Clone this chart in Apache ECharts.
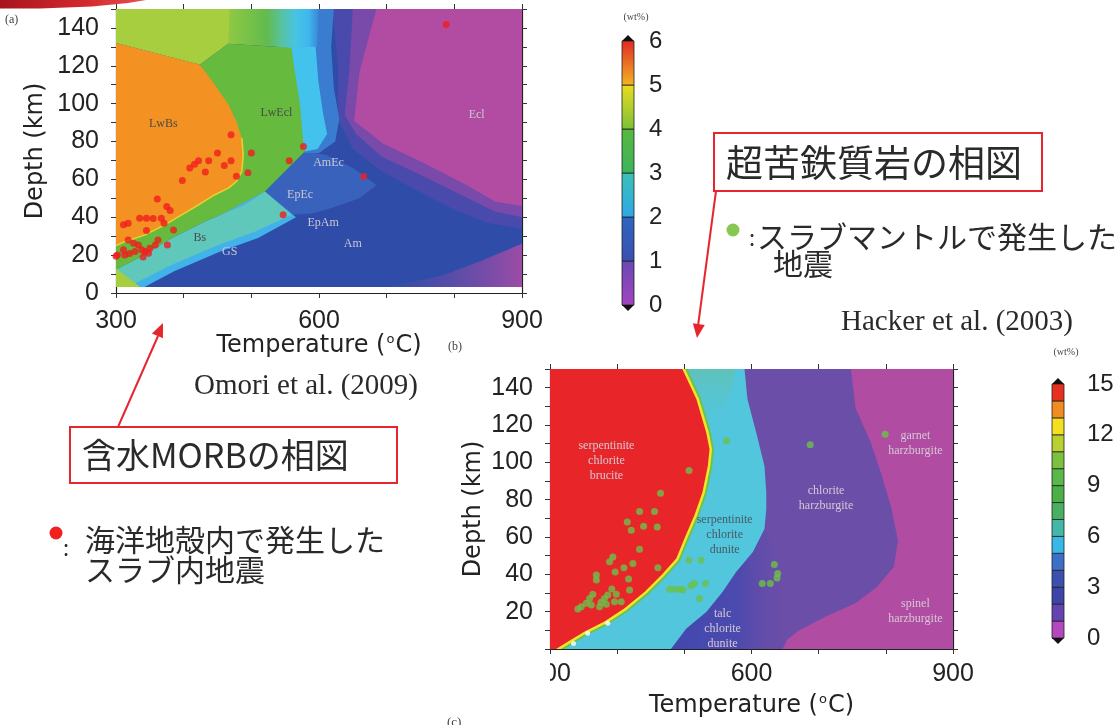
<!DOCTYPE html>
<html>
<head>
<meta charset="utf-8">
<title>含水MORB / 超苦鉄質岩の相図</title>
<script src="https://cdn.jsdelivr.net/npm/echarts@6/dist/echarts.min.js"></script>
<style>
  html, body { margin: 0; padding: 0; background: #fff; }
  #chart { width: 1120px; height: 725px; }
</style>
</head>
<body>
<div id="chart"></div>
<script>
// (a) hydrous MORB, Omori et al. (2009)   (b) ultramafic rock, Hacker et al. (2003)
// every outline / point below is [temperature (°C), depth (km)]

const tempLabels = [300, 600, 900]
const depthLabelsA = [0, 20, 40, 60, 80, 100, 120, 140]
const depthLabelsB = [20, 40, 60, 80, 100, 120, 140]
const wtStepsA = [0, 1, 2, 3, 4, 5, 6]
const wtStepsB = [0, 1, 2, 3, 4, 5, 6, 7, 8, 9, 10, 11, 12, 13, 14, 15]

// ---- phase fields (a)
const baseA = [[300, 3.2], [900, 3.2], [900, 150], [300, 150]]
const purpleOuterA = [[620, 150], [900, 150], [900, 34], [850, 37], [800, 44], [745, 54], [690, 65], [650, 76], [628, 92], [628, 120]]
const purpleInnerA = [[650, 150], [900, 150], [900, 40], [860, 43], [815, 51], [752, 62], [693, 72], [655, 84], [638, 94], [645, 118]]
const eclA = [[685, 150], [900, 150], [900, 46], [860, 48.3], [818, 57], [754, 68.8], [695, 78.8], [652, 91], [660, 117]]
const amCornerA = [[700, 3.2], [900, 3.2], [900, 26], [840, 17], [780, 9]]
const epEcA = [[579, 74.8], [610, 73], [650, 66], [685, 57], [660, 50], [620, 45], [590, 42], [559.5, 41.3], [520, 53.6]]
const blueHaloA = [[530, 150], [622, 150], [618, 130], [622, 108], [630, 92], [624, 80], [600, 74], [579, 74], [560, 100], [540, 130]]
const cyanHaloA = [[530, 150], [597, 150], [595, 130], [599, 112], [606, 95], [612, 84], [598, 76], [579, 74.8], [560, 100], [540, 130]]
const topBandA = [[445, 150], [600, 150], [597, 130], [559.5, 129.5], [466, 131.7], [445, 134]]
const lightGreenA = [[300, 150], [468, 150], [466, 131.7], [424, 120.6], [300, 132]]
const lwEclA = [[300, 12], [300, 132], [424, 120.6], [466, 131.7], [559.5, 129.5], [562, 122.4], [572, 99.5], [577, 78.8], [579, 74.8], [520, 53.6], [490.5, 46.6], [431.5, 37.7], [382, 28.9], [333, 18.4], [303, 13]]
const lwBsA = [[300, 132], [424, 120.6], [446, 110], [466, 99.5], [478, 90.6], [486, 81.8], [488, 73], [486, 64.2], [478, 58.9], [466, 55.4], [446, 51.9], [422, 46.6], [397, 41.3], [372, 36], [343, 30.7], [313, 27.1], [300, 25]]
const lwBsEdgeA = [[486, 81.8], [488, 73], [486, 64.2], [478, 58.9], [466, 55.4], [446, 51.9], [422, 46.6], [397, 41.3], [372, 36], [343, 30.7], [313, 27.1], [300, 25]]
const gsEdgeA = [[520, 53.6], [566, 40], [510, 29], [455, 22], [386, 11.5], [342, 3.2], [300, 3.2], [300, 12]]
const bsA = [[520, 53.6], [559.5, 41.3], [505, 32.3], [451, 25.4], [382, 14.8], [333, 6], [318, 3.2], [300, 3.2], [300, 12], [303, 13], [333, 18.4], [382, 28.9], [431.5, 37.7], [490.5, 46.6]]
const cornerA = [[300, 3.2], [300, 13], [318, 8], [336, 3.2]]

// ---- phase fields (b)
const baseB = [[290, -5], [910, -5], [910, 160], [290, 160]]
const chloriteHarzB = [[290, -5], [644, -5], [646, 0], [653, 4.9], [671, 10], [710, 17.3], [755, 24.6], [786, 33], [812, 44], [818, 58], [808, 76], [793, 94], [777, 111], [755, 129], [748, 150], [746, 160], [290, 160]]
const talcB = [[470, -5], [652, -5], [656, 15], [650, 35], [636, 50], [619, 64], [602, 52], [577, 41.3], [557, 30.7], [533, 20], [503, 11], [480, 0]]
const serpDuniteB = [[290, -5], [476, -5], [480, 0], [503, 11], [533, 20], [557, 30.7], [577, 41.3], [602, 52], [619.3, 64.3], [622, 75], [622, 84], [619.3, 98], [607, 116], [594, 133.8], [589.6, 150], [589, 160], [290, 160]]
const tealTopB = [[495, 160], [580, 160], [572, 140], [552, 124], [530, 114], [518, 133.8]]
const serpBruciteB = [[290, -5], [306, -5], [309, 0], [327, 4], [351, 9.3], [381, 14.7], [411, 21.8], [441, 30.7], [466, 39.6], [488, 48.5], [500, 59], [515, 71.6], [527, 84], [535, 98.2], [537.5, 107], [532.6, 116], [518, 133.8], [497, 150], [494, 160], [290, 160]]

// ---- field names
const darkNamesA = [[370, 89.3, 'LwBs'], [537, 95, 'LwEcl'], [424, 28.9, 'Bs']]
const lightNamesA = [[833, 94, 'Ecl'], [614, 69, 'AmEc'], [572, 51.9, 'EpEc'], [606, 37, 'EpAm'], [650, 25.8, 'Am'], [468, 21.9, 'GS']]
const darkNamesB = [[560, 61, 'serpentinite\nchlorite\ndunite']]
const lightNamesB = [[384, 101, 'serpentinite\nchlorite\nbrucite'], [557, 11, 'talc\nchlorite\ndunite'], [711, 80.5, 'chlorite\nharzburgite'], [844, 110, 'garnet\nharzburgite'], [844, 20, 'spinel\nharzburgite']]

// ---- earthquakes
const quakesA = [
  [470, 83.6], [500, 73.9], [450, 74], [437, 69.8], [422, 69.8], [416, 68], [409, 66], [470, 69.8], [460, 67.4],
  [432, 63.9], [478, 61.7], [495, 63.5], [398, 59.4], [556, 69.8], [577, 77.4], [361, 49.7], [375, 45.7], [380, 43.6],
  [335, 39.5], [345, 39.5], [355, 39.3], [367, 39.5], [371, 36.9], [311, 36], [318, 36.9], [345, 33], [385, 33.3],
  [376, 25.4], [547, 41.3], [302, 20.1], [313, 20.1], [320, 20.8], [328, 21.9], [333, 25.4], [338, 22.8], [343, 21.9],
  [350, 23.6], [358, 25.4], [362, 28], [326, 26.3], [318, 28], [348, 21], [311, 22.8], [300, 19.4], [340, 19],
  [788, 141.8], [666, 61.5]
]
const quakesB = [
  [464.6, 83.5], [433.3, 73.7], [455.6, 73.7], [415, 68], [421, 63.6], [439.3, 65.7], [459.7, 65.3], [433.3, 53.4],
  [460.6, 43.5], [393.6, 49.3], [388.7, 46.7], [369, 39.6], [369, 36.9], [397, 41.3], [410, 43.5], [423.4, 45.8],
  [417, 37.5], [418.5, 31.6], [392, 32.1], [398.7, 29.3], [406, 25.3], [396, 25.3], [363.8, 29.3], [359, 27.1],
  [354, 24.5], [346.6, 22.7], [341.5, 21.4], [386, 28.9], [381, 27.1], [376, 25], [383.8, 24], [373.8, 22.7],
  [361.5, 23.6], [507, 95.6], [563, 111.6], [687.4, 109.4], [506.7, 47.6], [525, 47.6], [515, 35.1], [510, 33.9],
  [531.6, 35.1], [497.8, 31.6], [522.6, 27.1], [634, 45.3], [639, 40.5], [638, 38], [616, 35.1], [628, 35.1],
  [799, 115], [478, 32], [486, 32], [494, 32]
]
const whiteMarksB = [[386, 13.8], [356, 8.5], [335, 3]]

// ---- styles
const LG = (x, y, x2, y2, stops) => new echarts.graphic.LinearGradient(x, y, x2, y2, stops.map(s => ({ offset: s[0], color: s[1] })))

const fieldsA = [
  { pts: baseA, fill: '#2f4da8' },
  { pts: purpleOuterA, fill: '#4a4aac' },
  { pts: purpleInnerA, fill: '#7a4aaa' },
  { pts: eclA, fill: '#b24ca2' },
  { pts: amCornerA, fill: LG(0, 0, 1, 0, [[0, 'rgba(120,76,170,0)'], [1, 'rgba(168,76,166,0.9)']]) },
  { pts: epEcA, fill: '#3862bb' },
  { pts: blueHaloA, fill: '#3a7ccf' },
  { pts: cyanHaloA, fill: '#44c2ee' },
  { pts: topBandA, fill: LG(0, 0, 1, 0, [[0, '#a6ce3e'], [0.15, '#8ec844'], [0.5, '#62bb4c'], [0.65, '#58c2a4'], [0.78, '#46c4e4'], [0.9, '#40b6ee'], [1, '#3a86d4']]) },
  { pts: lightGreenA, fill: '#a6ce3e' },
  { pts: lwEclA, fill: '#66ba3e' },
  { pts: lwBsA, fill: '#f39222' },
  { pts: lwBsEdgeA, stroke: '#e6d42e', width: 1.5, open: true },
  { pts: gsEdgeA, fill: '#42b2ea' },
  { pts: bsA, fill: '#60c8ba' },
  { pts: cornerA, fill: '#a6ce3e' }
]

const fieldsB = [
  { pts: baseB, fill: '#b04ca2' },
  { pts: chloriteHarzB, fill: '#6a4ea8' },
  { pts: talcB, fill: LG(0, 0, 1, 0, [[0, '#4048ae'], [0.6, '#4c4aae'], [1, 'rgba(106,78,168,0)']]) },
  { pts: serpDuniteB, fill: '#52c6dc' },
  { pts: tealTopB, fill: LG(0, 0, 0, 1, [[0, '#68c0a4'], [1, 'rgba(82,198,220,0)']]) },
  { pts: serpBruciteB, stroke: '#6cc24a', width: 9 },
  { pts: serpBruciteB, stroke: '#f2e62a', width: 5 },
  { pts: serpBruciteB, fill: '#e8262a' }
]

const barColorsA = [
  ['#a244c0', '#6a48b4'], ['#3c50b0', '#2e64c0'], ['#2ea8e6', '#3cc0b8'],
  ['#3cb45a', '#58b840'], ['#7cc038', '#ecdc1c'], ['#f4b424', '#e02a22']
]
const barColorsB = [
  '#b448c0', '#6444b0', '#3c44a8', '#3c50b0', '#3c70c8', '#38b8e8', '#44b8a8', '#48b060',
  '#4cb048', '#58b848', '#7cc040', '#b8d030', '#f4e020', '#f08c20', '#e83020'
]

const ink = '#2a2a2a'
const sans = 'Liberation Sans'
const jp = '"Noto Sans CJK JP"'
const red = '#e5262c'

function fieldRender (fields) {
  return function (params, api) {
    const f = fields[params.dataIndex]
    const points = f.pts.map(p => api.coord(p))
    return {
      type: f.open ? 'polyline' : 'polygon',
      shape: { points },
      style: { fill: f.fill || 'none', stroke: f.stroke || 'none', lineWidth: f.width || 0, lineJoin: 'round' },
      silent: true
    }
  }
}

function nameRender (names, color) {
  return function (params, api) {
    const d = names[params.dataIndex]
    const p = api.coord([d[0], d[1]])
    return {
      type: 'text', x: p[0], y: p[1], silent: true,
      style: { text: d[2], fill: color, font: '12px "Liberation Serif"', align: 'center', verticalAlign: 'middle', lineHeight: 15 }
    }
  }
}

function barRender (steps, colors) {
  return function (params, api) {
    const i = params.dataIndex
    const lo = api.coord([0, steps[i]])
    const hi = api.coord([1, steps[i + 1]])
    const c = colors[i]
    const fill = Array.isArray(c) ? LG(0, 1, 0, 0, [[0, c[0]], [1, c[1]]]) : c
    const mid = (lo[0] + hi[0]) / 2
    const children = [{
      type: 'rect',
      shape: { x: lo[0], y: hi[1], width: hi[0] - lo[0], height: lo[1] - hi[1] },
      style: { fill, stroke: '#222', lineWidth: 0.8 }
    }]
    if (i === 0) children.push({ type: 'polygon', shape: { points: [[lo[0], lo[1]], [hi[0], lo[1]], [mid, lo[1] + 6]] }, style: { fill: '#111' } })
    if (i === steps.length - 2) children.push({ type: 'polygon', shape: { points: [[lo[0], hi[1]], [hi[0], hi[1]], [mid, hi[1] - 6]] }, style: { fill: '#111' } })
    return { type: 'group', children, silent: true }
  }
}

function arrowHead (x1, y1, x2, y2) {
  const len = Math.hypot(x2 - x1, y2 - y1)
  const ux = (x2 - x1) / len
  const uy = (y2 - y1) / len
  const bx = x2 - ux * 14
  const by = y2 - uy * 14
  return [[x2, y2], [bx - uy * 6, by + ux * 6], [bx + uy * 6, by - ux * 6]]
}

const frameLine = { show: true, onZero: false, lineStyle: { color: '#222', width: 1.2 } }
const outTick = { show: true, inside: false, length: 5, lineStyle: { color: '#333', width: 1 } }
const tickFont = { fontFamily: sans, fontSize: 25, color: '#222' }
const nameFont = {
  fontFamily: 'DejaVu Sans', fontSize: 24, color: '#222',
  rich: { sup: { fontFamily: 'DejaVu Sans', fontSize: 13, color: '#222', verticalAlign: 'bottom', padding: [0, 1, 12, 1] } }
}

function tempAxis (grid, gap) {
  return [
    {
      gridIndex: grid, type: 'value', min: 300, max: 900, interval: 100, position: 'bottom',
      axisLine: frameLine, axisTick: outTick, splitLine: { show: false },
      axisLabel: { ...tickFont, margin: grid === 0 ? 16 : 13, formatter: v => tempLabels.includes(v) ? String(v) : '' },
      name: 'Temperature ({sup|o}C)', nameLocation: 'middle', nameGap: gap, nameTextStyle: nameFont, nameMoveOverlap: false
    },
    {
      gridIndex: grid, type: 'value', min: 300, max: 900, interval: 100, position: 'top',
      axisLine: frameLine, axisTick: outTick, axisLabel: { show: false }, splitLine: { show: false }
    }
  ]
}

function depthAxis (grid, labels, gap) {
  return [
    {
      gridIndex: grid, type: 'value', min: 0, max: 150, interval: 10, position: 'left',
      axisLine: frameLine, axisTick: outTick, splitLine: { show: false },
      axisLabel: { ...tickFont, margin: 17, formatter: v => labels.includes(v) ? String(v) : '' },
      name: 'Depth (km)', nameLocation: 'middle', nameGap: gap, nameTextStyle: nameFont, nameMoveOverlap: false
    },
    {
      gridIndex: grid, type: 'value', min: 0, max: 150, interval: 10, position: 'right',
      axisLine: frameLine, axisTick: outTick, axisLabel: { show: false }, splitLine: { show: false }
    }
  ]
}

function barYAxis (grid, max, interval, margin, tick) {
  return {
    gridIndex: grid, type: 'value', min: 0, max, interval, position: 'right',
    axisLine: { show: false }, splitLine: { show: false },
    axisTick: { show: true, inside: false, length: tick, lineStyle: { color: '#333' } },
    axisLabel: { fontFamily: sans, fontSize: 24, color: '#222', margin }
  }
}

const chart = echarts.init(document.getElementById('chart'))

chart.setOption({
  backgroundColor: '#fff',
  animation: false,
  grid: [
    { left: 116, top: 9, width: 406, height: 284, containLabel: false, outerBoundsMode: 'none' },
    { left: 550, top: 369, width: 403, height: 280, containLabel: false, outerBoundsMode: 'none' },
    { left: 622, top: 41, width: 12, height: 264, containLabel: false, outerBoundsMode: 'none' },
    { left: 1052, top: 384, width: 12, height: 254, containLabel: false, outerBoundsMode: 'none' }
  ],
  xAxis: [
    ...tempAxis(0, 40),
    ...tempAxis(1, 44),
    { gridIndex: 2, type: 'value', min: 0, max: 1, show: false },
    { gridIndex: 3, type: 'value', min: 0, max: 1, show: false }
  ],
  yAxis: [
    ...depthAxis(0, depthLabelsA, 68),
    ...depthAxis(1, depthLabelsB, 64),
    barYAxis(2, 6, 1, 15, 5),
    barYAxis(3, 15, 3, 23, 7)
  ],
  series: [
    {
      type: 'custom', xAxisIndex: 0, yAxisIndex: 0, clip: true, z: 1, silent: true,
      data: fieldsA.map(f => f.pts[0]), encode: { x: 0, y: 1 }, renderItem: fieldRender(fieldsA)
    },
    {
      type: 'custom', xAxisIndex: 0, yAxisIndex: 0, z: 3, silent: true,
      data: darkNamesA.map(d => [d[0], d[1]]), encode: { x: 0, y: 1 }, renderItem: nameRender(darkNamesA, '#4a4a48')
    },
    {
      type: 'custom', xAxisIndex: 0, yAxisIndex: 0, z: 3, silent: true,
      data: lightNamesA.map(d => [d[0], d[1]]), encode: { x: 0, y: 1 }, renderItem: nameRender(lightNamesA, '#c9c6d6')
    },
    {
      type: 'scatter', xAxisIndex: 0, yAxisIndex: 0, z: 4, silent: true,
      data: quakesA, symbolSize: 7, itemStyle: { color: '#f01e1e' }
    },
    {
      type: 'custom', xAxisIndex: 2, yAxisIndex: 2, clip: true, z: 1, silent: true,
      data: fieldsB.map(f => f.pts[0]), encode: { x: 0, y: 1 }, renderItem: fieldRender(fieldsB)
    },
    {
      type: 'custom', xAxisIndex: 2, yAxisIndex: 2, z: 3, silent: true,
      data: darkNamesB.map(d => [d[0], d[1]]), encode: { x: 0, y: 1 }, renderItem: nameRender(darkNamesB, '#4a5a66')
    },
    {
      type: 'custom', xAxisIndex: 2, yAxisIndex: 2, z: 3, silent: true,
      data: lightNamesB.map(d => [d[0], d[1]]), encode: { x: 0, y: 1 }, renderItem: nameRender(lightNamesB, '#d6c8d4')
    },
    {
      type: 'scatter', xAxisIndex: 2, yAxisIndex: 2, z: 4, silent: true,
      data: quakesB, symbolSize: 7, itemStyle: { color: '#6cc04a' }
    },
    {
      type: 'scatter', xAxisIndex: 2, yAxisIndex: 2, z: 4, silent: true,
      data: whiteMarksB, symbolSize: 5, itemStyle: { color: '#ffffff' }
    },
    {
      type: 'custom', xAxisIndex: 4, yAxisIndex: 4, z: 2, silent: true,
      data: wtStepsA.slice(0, -1).map(v => [0.5, v]), encode: { x: 0, y: 1 }, renderItem: barRender(wtStepsA, barColorsA)
    },
    {
      type: 'custom', xAxisIndex: 5, yAxisIndex: 5, z: 2, silent: true,
      data: wtStepsB.slice(0, -1).map(v => [0.5, v]), encode: { x: 0, y: 1 }, renderItem: barRender(wtStepsB, barColorsB)
    }
  ],
  graphic: [
    { type: 'polygon', shape: { points: [[0, 0], [146, 0], [128, 3], [92, 6.5], [40, 8.5], [0, 8.5]] }, style: { fill: LG(0, 0, 1, 0, [[0, '#a8141c'], [0.6, '#d42a2e'], [1, '#e85050']]) } },
    { type: 'text', x: 5, y: 20, style: { text: '(a)', font: '12px "Liberation Serif"', fill: '#444', verticalAlign: 'middle' } },
    { type: 'text', x: 636, y: 17, style: { text: '(wt%)', font: '10px "Liberation Serif"', fill: '#444', align: 'center', verticalAlign: 'middle' } },
    { type: 'text', x: 1066, y: 352, style: { text: '(wt%)', font: '10px "Liberation Serif"', fill: '#444', align: 'center', verticalAlign: 'middle' } },
    { type: 'text', x: 448, y: 347, style: { text: '(b)', font: '12px "Liberation Serif"', fill: '#444', verticalAlign: 'middle' } },
    { type: 'text', x: 447, y: 716, style: { text: '(c)', font: '13px "Liberation Serif"', fill: '#444', verticalAlign: 'top' } },
    { type: 'text', x: 306, y: 386, style: { text: 'Omori et al. (2009)', font: '29px "Liberation Serif"', fill: ink, align: 'center', verticalAlign: 'middle' } },
    { type: 'text', x: 957, y: 322, style: { text: 'Hacker et al. (2003)', font: '29px "Liberation Serif"', fill: ink, align: 'center', verticalAlign: 'middle' } },

    // white patch over the start of the "300" label of (b), as in the slide
    { type: 'rect', z: 100, shape: { x: 505, y: 660, width: 45, height: 32 }, style: { fill: '#fff' } },

    // callout: hydrous MORB
    { type: 'rect', shape: { x: 70, y: 427, width: 327, height: 56 }, style: { fill: '#fff', stroke: red, lineWidth: 2 } },
    { type: 'text', x: 82, y: 455, style: { text: '含水MORBの相図', font: `34px ${jp}`, fill: ink, verticalAlign: 'middle' } },
    { type: 'line', shape: { x1: 118, y1: 427, x2: 158, y2: 336 }, style: { stroke: red, lineWidth: 2 } },
    { type: 'polygon', shape: { points: arrowHead(118, 427, 163, 323) }, style: { fill: red } },
    { type: 'circle', shape: { cx: 56, cy: 533, r: 6.5 }, style: { fill: '#f02020' } },
    { type: 'text', x: 63, y: 548, style: { text: ':', font: `22px ${jp}`, fill: ink, verticalAlign: 'middle' } },
    { type: 'text', x: 85, y: 540, style: { text: '海洋地殻内で発生した', font: `30px ${jp}`, fill: ink, verticalAlign: 'middle' } },
    { type: 'text', x: 85, y: 570, style: { text: 'スラブ内地震', font: `30px ${jp}`, fill: ink, verticalAlign: 'middle' } },

    // callout: ultramafic rock
    { type: 'rect', shape: { x: 714, y: 133, width: 328, height: 58 }, style: { fill: '#fff', stroke: red, lineWidth: 2 } },
    { type: 'text', x: 726, y: 163, style: { text: '超苦鉄質岩の相図', font: `37px ${jp}`, fill: ink, verticalAlign: 'middle' } },
    { type: 'line', shape: { x1: 716, y1: 191, x2: 698, y2: 326 }, style: { stroke: red, lineWidth: 2 } },
    { type: 'polygon', shape: { points: arrowHead(716, 191, 697, 338) }, style: { fill: red } },
    { type: 'circle', shape: { cx: 733, cy: 230, r: 6.5 }, style: { fill: '#86c850' } },
    { type: 'text', x: 749, y: 238, style: { text: ':', font: `22px ${jp}`, fill: ink, verticalAlign: 'middle' } },
    { type: 'text', x: 757, y: 237, style: { text: 'スラブマントルで発生した', font: `30px ${jp}`, fill: ink, verticalAlign: 'middle' } },
    { type: 'text', x: 773, y: 264, style: { text: '地震', font: `30px ${jp}`, fill: ink, verticalAlign: 'middle' } }
  ]
})
</script>
</body>
</html>
